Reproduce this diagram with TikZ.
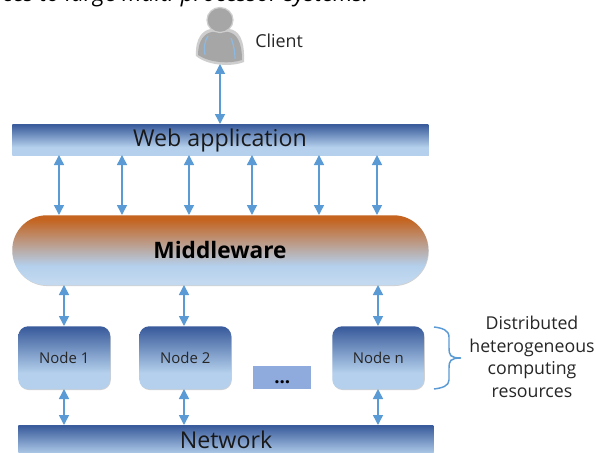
\documentclass[tikz,border=0pt]{standalone}
\usepackage{fontspec}
\setmainfont{Open Sans}
\usetikzlibrary{arrows.meta,shadows,calc}
\definecolor{arrowblue}{HTML}{5B9BD5}
\definecolor{bartop}{HTML}{3A5C9C}
\definecolor{barbot}{HTML}{B4D0EC}
\definecolor{midtop}{HTML}{C46420}
\definecolor{dotsblue}{HTML}{8FAADC}
\definecolor{persongrey}{HTML}{A6A6A6}
\pgfdeclareverticalshading{bluegrad}{100bp}{color(0bp)=(barbot); color(38bp)=(barbot); color(74bp)=(bartop); color(100bp)=(bartop)}
\pgfdeclareverticalshading{midgrad}{100bp}{color(0bp)=(barbot!80!white); color(27bp)=(barbot!80!white); color(39bp)=(barbot); color(72bp)=(midtop); color(100bp)=(midtop)}
\tikzset{
  px/.style={x=0.75pt,y=-0.75pt},
  softshadow/.style={drop shadow={shadow xshift=0.4pt,shadow yshift=-0.6pt,fill=black,opacity=0.18}},
  barbox/.style={draw=none,rectangle,anchor=north west,inner sep=0pt,shading=bluegrad,softshadow},
  nodebox/.style={draw=none,rectangle,rounded corners=7.5pt,anchor=north west,inner sep=0pt,minimum width=69pt,minimum height=47.25pt,shading=bluegrad,softshadow,font=\fontsize{11.2}{13}\selectfont,text=black!85},
  link/.style={draw=arrowblue,line width=1.1pt,{Triangle[width=7.5pt,length=7.5pt]}-{Triangle[width=7.5pt,length=7.5pt]}},
  bigtext/.style={font=\fontsize{17.4}{20}\selectfont,text=black!90},
  sidetext/.style={font=\fontsize{13.3}{17}\selectfont,text=black!85,align=center}
}
\begin{document}
\begin{tikzpicture}[px]
\useasboundingbox (0,0) rectangle (596,453);
\clip (0,0) rectangle (596,453);
\fill[white] (0,0) rectangle (596,453);
% cropped caption line
\node[anchor=base west,inner sep=0pt,font=\itshape\fontsize{17}{20}\selectfont] (caption) at (2,2) {ces to large multi-processor systems.};
% client icon
\fill[persongrey!55!white] (196,56) .. controls (195,38) and (203,30) .. (211,29) -- (229,29) .. controls (238,30) and (245,38) .. (244,62) .. controls (232,67) and (208,66) .. (196,56) -- cycle;
\fill[persongrey] (198,55) .. controls (198,40) and (205,33) .. (212,32) -- (228,32) .. controls (236,33) and (242,41) .. (242,60) .. controls (230,64) and (210,63) .. (198,55) -- cycle;
\fill[persongrey,draw=persongrey!55!white,line width=0.9pt] (220,20) ellipse (13 and 12.5);
\draw[arrowblue!70!white,line width=0.9pt] (208,36) .. controls (204,42) and (204,48) .. (205,55);
\draw[arrowblue!70!white,line width=0.9pt] (231,38) .. controls (234,46) and (235,52) .. (235,59);
\coordinate (clientpt) at (220,64);
\node[anchor=west,inner sep=0pt,font=\fontsize{13.4}{15}\selectfont,text=black!85] (client) at (255,41) {Client};
% web bar
\node[barbox,minimum width=312pt,minimum height=23.25pt] (web) at (12,124) {};
\node[bigtext] (webtext) at (220,140.5) {Web application};
% middleware
\node[draw=none,rectangle,rounded corners=26pt,anchor=north west,inner sep=0pt,minimum width=312pt,minimum height=52.5pt,softshadow,shading=midgrad] (mid) at (12,215) {};
\node[font=\bfseries\fontsize{17}{19}\selectfont,text=black] (midtext) at (220,249.5) {Middleware};
% nodes
\node[nodebox] (n1) at (18,326) {Node 1};
\node[nodebox] (n2) at (139,326) {Node 2};
\node[nodebox] (nn) at (332,326) {Node n};
\node[rectangle,anchor=north west,inner sep=0pt,minimum width=43.5pt,minimum height=17.25pt,fill=dotsblue,font=\bfseries\fontsize{14}{15}\selectfont] (dots) at (253,366) {\smash{\raisebox{-4.5pt}{...}}};
% network
\node[barbox,minimum width=311.25pt,minimum height=30pt] (net) at (18,425) {};
\node[bigtext] (nettext) at (226,440) {Network};
% brace
\coordinate (bracetip) at (461,358);
\draw[arrowblue,line width=1.1pt] (434,327) .. controls (442,328) and (449,330) .. (449,337) -- (449,348) .. controls (449,355) and (450,358) .. (461,358) .. controls (450,358) and (449,361) .. (449,368) -- (449,380) .. controls (449,386) and (442,388) .. (434,389);
\node[sidetext] (res) at (532,357) {Distributed\\heterogeneous\\computing\\resources};
% links
\draw[link] (clientpt) -- (clientpt |- web.north);
\foreach \x/\i in {59/a,122/b,189/c,252/d,319/e,377/f}{
  \coordinate (t\i) at (\x,155); \coordinate (m\i) at (\x,215);
  \draw[link] (t\i) -- (m\i);
}
\foreach \x/\n in {64/n1,184/n2,378/nn}{
  \draw[link] (\x,285) -- (\x,326);
  \draw[link] (\x,389) -- (\x,425);
}
\end{tikzpicture}
\end{document}
